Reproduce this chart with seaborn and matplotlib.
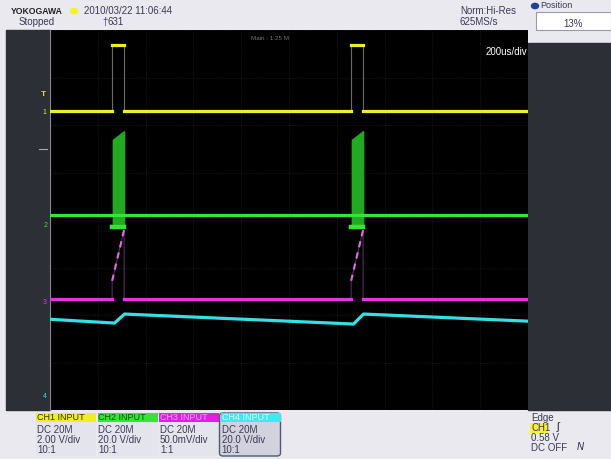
import numpy as np
import pandas as pd
import matplotlib
matplotlib.use('Agg')
import matplotlib.pyplot as plt
from matplotlib.patches import Rectangle, FancyBboxPatch, Circle
import seaborn as sns

# Screen data: time in us relative to trigger, level in screen divisions.
ch1_t = [-260, 0, 0, 50, 50, 1000, 1000, 1050, 1050, 1740]
ch1_v = [2.29, 2.29, 3.69, 3.69, 2.29, 2.29, 3.69, 3.69, 2.29, 2.29]

ch2_t = [-260, 1740]
ch2_v = [0.105, 0.105]
ch2_burst_t = [0, 1, 50, 53, 1000, 1001, 1050, 1053]
ch2_burst_top = [1.66, 1.70, 1.89, 1.86, 1.66, 1.70, 1.89, 1.86]
ch2_burst_bot = [-0.17, -0.17, -0.17, -0.17, -0.17, -0.17, -0.17, -0.17]

ch3_t = [-260, 0, 0, 50, 50, 1000, 1000, 1050, 1050, 1740]
ch3_v = [-1.66, -1.66, -1.28, -0.21, -1.66, -1.66, -1.28, -0.21, -1.66, -1.66]

ch4_t = [-260, 10, 52, 1010, 1052, 1740]
ch4_v = [-2.09, -2.17, -1.98, -2.19, -1.98, -2.13]

ch_names = ['CH1 INPUT', 'CH2 INPUT', 'CH3 INPUT', 'CH4 INPUT']
ch_coupling = ['DC 20M', 'DC 20M', 'DC 20M', 'DC 20M']
ch_scale = ['2.00 V/div', '20.0 V/div', '50.0mV/div', '20.0 V/div']
ch_probe = ['10:1', '10:1', '1:1', '10:1']

YEL, GRN, MAG, CYN = '#eeee22', '#33e633', '#e633e6', '#33e0e6'
W, H = 611, 459


def fx(x):
    return x / W


def fy(y):
    return 1 - y / H


fig = plt.figure(figsize=(W / 100, H / 100), dpi=100, facecolor='#e9e9ef')
plt.rcParams['font.family'] = ['Liberation Sans', 'DejaVu Sans']

# Dark side panels.
fig.add_artist(Rectangle((fx(6), fy(410)), fx(44), 380 / H, transform=fig.transFigure,
                         color='#2c2f36', zorder=0))
fig.add_artist(Rectangle((fx(528), fy(410)), fx(83), 367 / H, transform=fig.transFigure,
                         color='#2c2f36', zorder=0))

ax = fig.add_axes([fx(50), fy(410), fx(478), 380 / H])
ax.set_facecolor('black')
ax.set_xlim(-260, 1740)
ax.set_ylim(-4, 4)
ax.set_xticks(np.arange(-260, 1741, 200))
ax.set_yticks(np.arange(-4, 5, 1))
ax.grid(True, color='#151515', lw=0.8, ls=(0, (1, 1)))
ax.tick_params(length=0, labelbottom=False, labelleft=False)
for s in ['top', 'right', 'bottom']:
    ax.spines[s].set_visible(False)
ax.spines['left'].set_color('#8a8a8a')
ax.spines['left'].set_linewidth(0.8)

seg = [i // 2 for i in range(len(ch1_t))]
d1 = pd.DataFrame({'t': ch1_t, 'v': ch1_v, 'seg': seg})
d3 = pd.DataFrame({'t': ch3_t, 'v': ch3_v, 'seg': seg})

# CH2 (green) burst area
for k in range(0, len(ch2_burst_t), 4):
    tt = ch2_burst_t[k:k + 4]
    ax.fill_between(tt, ch2_burst_bot[k:k + 4], ch2_burst_top[k:k + 4], color='#22a822', lw=0, zorder=2)
    ax.plot([tt[0], tt[2]], [ch2_burst_bot[k] + 0.02] * 2, color=GRN, lw=3.2, zorder=3)
sns.lineplot(x=ch2_t, y=ch2_v, color=GRN, lw=2.3, ax=ax, zorder=4)

# CH1 (yellow): thin step edges, thick levels
sns.lineplot(data=d1, x='t', y='v', color='#6e6e58', lw=0.8, sort=False, estimator=None, ax=ax, zorder=3)
sns.lineplot(data=d1, x='t', y='v', units='seg', estimator=None, color=YEL, lw=2.3, ax=ax, zorder=4)

# CH3 (magenta): baseline plus dashed ramp during pulse
sns.lineplot(data=d3, x='t', y='v', color='#5a2a5a', lw=0.8, sort=False, estimator=None, ax=ax, zorder=3)
sns.lineplot(data=d3[d3.seg % 2 == 0], x='t', y='v', units='seg', estimator=None, color=MAG, lw=2.3, ax=ax, zorder=4)
for s_id in [1, 3]:
    part = d3[d3.seg == s_id]
    ax.plot(part.t, part.v, color='#e070e0', lw=1.5, ls=(0, (3, 2.5)), zorder=4)

# CH4 (cyan)
sns.lineplot(x=ch4_t, y=ch4_v, color=CYN, lw=2.3, sort=False, estimator=None, ax=ax, zorder=4)

ax.text(0.46, 0.985, 'Main : 1.25 M', transform=ax.transAxes, color='#777777', fontsize=4.5,
        ha='center', va='top')
ax.text(0.998, 0.955, '200us/div', transform=ax.transAxes, color='white', fontsize=7,
        ha='right', va='top')

# Left channel markers
fig.text(fx(43), fy(95), 'T', color='#d8d860', fontsize=6, ha='center', va='center', fontweight='bold')
fig.text(fx(44), fy(112), '1', color=YEL, fontsize=5, ha='center', va='center')
fig.add_artist(plt.Line2D([fx(39), fx(47)], [fy(149), fy(149)], color='#aaaaaa', lw=0.8))
fig.text(fx(46), fy(225), '2', color=GRN, fontsize=5, ha='center', va='center')
fig.text(fx(45), fy(302), '3', color=MAG, fontsize=5, ha='center', va='center')
fig.text(fx(45), fy(397), '4', color=CYN, fontsize=5, ha='center', va='center')

# Top status bar
fig.text(fx(11), fy(11), 'YOKOGAWA', fontsize=6.2, color='#222222', va='center', fontweight='bold')
fig.add_artist(Circle((fx(74), fy(11)), 3.5 / W, transform=fig.transFigure, color='#f5f030'))
fig.text(fx(84), fy(11), '2010/03/22 11:06:44', fontsize=7, color='#3a3a55', va='center')
fig.text(fx(19), fy(22), 'Stopped', fontsize=7, color='#3a3a55', va='center')
fig.text(fx(102), fy(22), '\u2020', fontsize=7, color='#3a3a80', va='center')
fig.text(fx(108), fy(22), '631', fontsize=7, color='#3a3a55', va='center')
fig.text(fx(460), fy(11), 'Norm:Hi-Res', fontsize=7, color='#3a3a55', va='center')
fig.text(fx(460), fy(22), '625MS/s', fontsize=7, color='#3a3a55', va='center')
fig.add_artist(Circle((fx(535), fy(6)), 3.5 / W, transform=fig.transFigure, color='#2040a0'))
fig.text(fx(540), fy(6), 'Position', fontsize=6.5, color='#3a3a55', va='center')
fig.add_artist(Rectangle((fx(536), fy(30)), fx(75), 18 / H, transform=fig.transFigure,
                         facecolor='white', edgecolor='#9a9aaa', lw=0.8))
fig.text(fx(573), fy(24), '13%', fontsize=7, color='#3a3a55', va='center', ha='center')

# Bottom channel boxes
hdr_colors = [YEL, GRN, '#e020e0', '#40e8f0']
hdr_text = ['#333300', '#1a4a1a', '#f0a0f0', '#e0ffff']
for i in range(4):
    x0 = 36 + i * 61.5
    if i == 3:
        fig.add_artist(FancyBboxPatch((fx(x0 - 1), fy(456)), fx(61), 43 / H,
                                      boxstyle='round,pad=0,rounding_size=0.006',
                                      transform=fig.transFigure, facecolor='#d2d2de',
                                      edgecolor='#505a70', lw=1.0))
    else:
        fig.add_artist(Rectangle((fx(x0), fy(456)), fx(60), 43 / H, transform=fig.transFigure,
                                 facecolor='#e4e4ec', edgecolor='none'))
    fig.add_artist(Rectangle((fx(x0), fy(422)), fx(60), 9 / H, transform=fig.transFigure,
                             facecolor=hdr_colors[i], edgecolor='none'))
    fig.text(fx(x0 + 1), fy(417.5), ch_names[i], fontsize=6.5, color=hdr_text[i], va='center')
    fig.text(fx(x0 + 1), fy(430), ch_coupling[i], fontsize=7, color='#3a3a55', va='center')
    fig.text(fx(x0 + 1), fy(440), ch_scale[i], fontsize=7, color='#3a3a55', va='center')
    fig.text(fx(x0 + 1), fy(450), ch_probe[i], fontsize=7, color='#3a3a55', va='center')

# Trigger info
fig.text(fx(531), fy(418), 'Edge', fontsize=7, color='#3a3a55', va='center')
fig.add_artist(Rectangle((fx(530), fy(433)), fx(18), 10 / H, transform=fig.transFigure,
                         facecolor='#f5f030', edgecolor='none'))
fig.text(fx(531), fy(428), 'CH1', fontsize=7, color='#3a3a55', va='center')
fig.text(fx(557), fy(427), '\u0283', fontsize=8, color='#222244', va='center')
fig.text(fx(531), fy(438), '0.58 V', fontsize=7, color='#3a3a55', va='center')
fig.text(fx(531), fy(448), 'DC OFF', fontsize=7, color='#3a3a55', va='center')
fig.text(fx(577), fy(447), 'N', fontsize=7, color='#222244', va='center', fontstyle='italic')

fig.savefig('out.png', dpi=100, facecolor=fig.get_facecolor())
